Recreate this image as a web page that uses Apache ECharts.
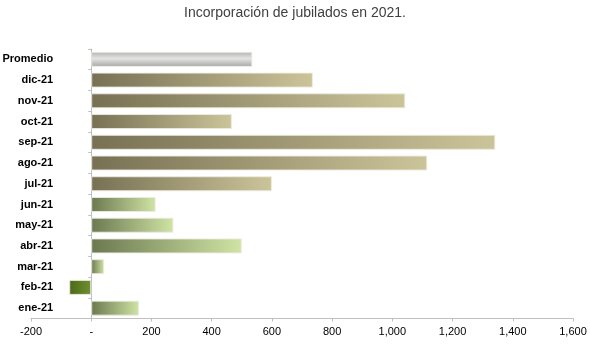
<!DOCTYPE html>
<html><head><meta charset="utf-8">
<script src="https://cdn.jsdelivr.net/npm/echarts@6/dist/echarts.min.js"></script>
<style>html,body{margin:0;padding:0;background:#fff}#c{width:590px;height:347px}</style>
</head><body><div id="c"></div>
<script>
// bottom to top
var categories = ['ene-21','feb-21','mar-21','abr-21','may-21','jun-21','jul-21','ago-21','sep-21','oct-21','nov-21','dic-21','Promedio'];
var values = [159, -73, 43, 500, 273, 214, 600, 1116, 1342, 467, 1043, 736, 535];
var groups = ['h1','neg','h1','h1','h1','h1','h2','h2','h2','h2','h2','h2','avg'];
var xTicks = [-200, 0, 200, 400, 600, 800, 1000, 1200, 1400, 1600];

function grad(a, b) {
  return new echarts.graphic.LinearGradient(0, 0, 1, 0, [{offset:0,color:a},{offset:1,color:b}]);
}
var styles = {
  h1: grad('#6c7850', '#cfe4a4'),
  neg: grad('#4c6819', '#71902e'),
  h2: grad('#777053', '#ccc499'),
  avg: new echarts.graphic.LinearGradient(0, 0, 0, 1, [
    {offset:0,color:'#b4b4b4'},{offset:0.45,color:'#e4e4e4'},{offset:1,color:'#a4a4a4'}])
};

var data = values.map(function (v, i) {
  return { value: v, itemStyle: { color: styles[groups[i]] } };
});

var gridLeft = 31, gridRight = 17, W = 590;
var xMin = xTicks[0], xMax = xTicks[xTicks.length - 1];
var zeroOffset = (W - gridLeft - gridRight) * (0 - xMin) / (xMax - xMin);

var chart = echarts.init(document.getElementById('c'), null, {renderer: 'canvas'});
chart.setOption({
  animation: false,
  title: {
    text: 'Incorporación de jubilados en 2021.',
    left: 'center', top: 1,
    textStyle: { fontFamily: 'Liberation Sans', fontSize: 14, fontWeight: 'normal', color: '#404040' }
  },
  grid: { left: gridLeft, right: gridRight, top: 49, bottom: 28.5, containLabel: false, outerBoundsMode: 'none' },
  xAxis: {
    type: 'value', min: xMin, max: xMax, interval: 200,
    splitLine: { show: false },
    axisLine: { show: true, lineStyle: { color: '#bfbfbf', width: 1 } },
    axisTick: { show: true, length: 3, lineStyle: { color: '#bfbfbf' } },
    axisLabel: {
      color: '#000', fontFamily: 'Liberation Sans', fontSize: 11, margin: 8,
      formatter: function (v) { return v === 0 ? '-' : v.toLocaleString('en-US'); }
    }
  },
  yAxis: {
    type: 'category', data: categories, offset: -zeroOffset,
    axisLine: { show: true, onZero: false, lineStyle: { color: '#bfbfbf', width: 1 } },
    axisTick: { show: true, length: 3, lineStyle: { color: '#bfbfbf' } },
    axisLabel: { color: '#000', fontFamily: 'Liberation Sans', fontSize: 11, fontWeight: 'bold', margin: 38 }
  },
  series: [{
    type: 'bar', data: data, barWidth: 15,
    itemStyle: { borderColor: 'rgba(235,235,225,0.9)', borderWidth: 1 }
  }]
});
</script></body></html>
